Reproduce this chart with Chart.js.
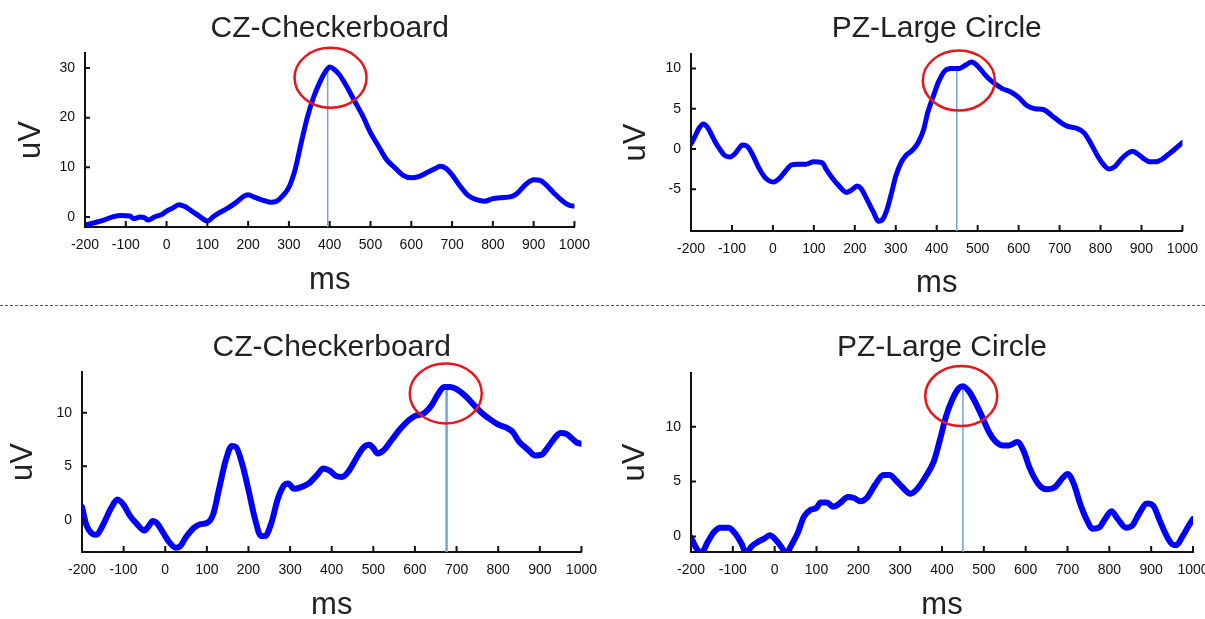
<!DOCTYPE html>
<html>
<head>
<meta charset="utf-8">
<script src="https://cdn.jsdelivr.net/npm/chart.js@4.4.1/dist/chart.umd.min.js"></script>
<style>
  html, body { margin: 0; padding: 0; background: #fff; overflow: hidden; }
  body { width: 1205px; height: 619px; position: relative; }
  canvas { position: absolute; }
  #sep { position: absolute; left: 0; top: 305px; width: 1205px; border-top: 1px dashed #555; }
</style>
</head>
<body>
<div id="sep"></div>
<canvas id="czTop" width="600" height="310" style="left:0;top:0"></canvas>
<canvas id="pzTop" width="603" height="310" style="left:605px;top:0"></canvas>
<canvas id="czBottom" width="607" height="330" style="left:0;top:300px"></canvas>
<canvas id="pzBottom" width="620" height="330" style="left:605px;top:300px"></canvas>
<script>
// tick labels
const msTicks = [-200, -100, 0, 100, 200, 300, 400, 500, 600, 700, 800, 900, 1000];
const czTopYTicks = [0, 10, 20, 30];
const pzTopYTicks = [-5, 0, 5, 10];
const czBottomYTicks = [0, 5, 10];
const pzBottomYTicks = [0, 5, 10];

// top row, CZ
const czTopTime = [-195, -170, -150, -130, -110, -90, -80, -65, -55, -45, -30, -10, 0, 15, 30, 45, 60, 80, 100, 115, 130, 150, 170, 190, 200, 215, 235, 255, 270, 285, 300, 315, 330, 345, 360, 375, 390, 400, 410, 425, 440, 460, 480, 500, 520, 540, 560, 580, 600, 620, 640, 660, 670, 685, 700, 720, 740, 760, 780, 800, 820, 845, 860, 880, 900, 915, 930, 950, 970, 990, 1000];
const czTopUv = [-1.5, -1.0, -0.5, 0.1, 0.3, 0.2, -0.3, 0.0, -0.1, -0.6, 0.0, 0.6, 1.2, 1.8, 2.5, 2.1, 1.3, 0.2, -0.8, 0.1, 0.9, 1.8, 2.9, 4.2, 4.5, 4.0, 3.4, 3.0, 3.2, 4.3, 6.0, 9.5, 14.9, 20.0, 24.0, 27.0, 29.3, 30.2, 29.8, 28.5, 26.5, 23.5, 20.5, 17.0, 14.2, 11.5, 9.9, 8.4, 7.9, 8.2, 9.0, 9.8, 10.2, 9.8, 8.5, 6.2, 4.3, 3.5, 3.2, 3.7, 3.9, 4.1, 4.8, 6.5, 7.5, 7.4, 6.5, 4.8, 3.3, 2.3, 2.2];

// top row, PZ
const pzTopTime = [-200, -190, -180, -170, -160, -150, -140, -130, -118, -105, -95, -85, -75, -65, -55, -45, -35, -20, -8, 2, 15, 30, 45, 60, 80, 100, 120, 130, 145, 160, 180, 195, 205, 215, 230, 245, 258, 270, 280, 290, 300, 312, 325, 340, 355, 368, 378, 392, 405, 420, 435, 455, 470, 485, 500, 515, 530, 545, 560, 580, 600, 620, 640, 660, 680, 700, 720, 740, 760, 775, 790, 805, 820, 835, 850, 865, 878, 890, 905, 920, 935, 950, 965, 980, 1000];
const pzTopUv = [0.6, 1.6, 2.6, 3.1, 2.7, 1.8, 0.8, 0.0, -0.8, -1.0, -0.7, -0.1, 0.5, 0.4, -0.2, -1.2, -2.3, -3.5, -4.0, -4.1, -3.7, -2.8, -2.0, -1.9, -1.9, -1.6, -1.7, -2.5, -3.6, -4.5, -5.4, -5.0, -4.6, -4.9, -6.3, -7.8, -9.0, -8.6, -7.3, -5.4, -3.4, -1.8, -0.8, -0.2, 0.8, 2.4, 4.5, 6.6, 8.4, 9.7, 10.0, 10.0, 10.4, 10.8, 10.3, 9.4, 8.6, 8.0, 7.5, 7.1, 6.4, 5.4, 5.0, 4.9, 4.2, 3.4, 2.8, 2.6, 2.0, 0.8, -0.6, -1.8, -2.5, -2.2, -1.3, -0.6, -0.3, -0.6, -1.2, -1.6, -1.6, -1.3, -0.7, -0.1, 0.8];

// bottom row, CZ
const czBottomTime = [-200, -190, -175, -165, -150, -130, -115, -100, -85, -70, -50, -40, -30, -20, -5, 10, 25, 35, 50, 70, 85, 100, 115, 130, 145, 160, 170, 185, 200, 215, 230, 240, 255, 270, 285, 295, 310, 330, 345, 365, 380, 395, 410, 425, 440, 460, 475, 490, 500, 510, 525, 545, 565, 585, 600, 620, 640, 655, 670, 685, 700, 720, 740, 760, 780, 800, 820, 835, 850, 870, 890, 905, 920, 935, 950, 965, 980, 990, 1000];
const czBottomUv = [1.2, -0.4, -1.3, -1.4, -0.5, 1.1, 1.9, 1.4, 0.4, -0.3, -1.0, -0.6, -0.1, -0.3, -1.2, -2.1, -2.6, -2.5, -1.6, -0.7, -0.4, -0.3, 0.5, 3.0, 5.5, 6.9, 6.8, 5.2, 2.8, 0.2, -1.5, -1.5, -0.3, 1.9, 3.2, 3.4, 2.9, 3.1, 3.4, 4.2, 4.8, 4.6, 4.1, 4.0, 4.5, 5.8, 6.7, 7.0, 6.7, 6.2, 6.5, 7.5, 8.5, 9.3, 9.7, 9.9, 10.7, 11.7, 12.4, 12.4, 12.2, 11.6, 10.8, 10.0, 9.4, 8.9, 8.6, 8.2, 7.3, 6.6, 6.0, 6.1, 6.8, 7.6, 8.1, 8.0, 7.5, 7.2, 7.1];

// bottom row, PZ
const pzBottomTime = [-200, -185, -175, -160, -145, -130, -110, -95, -80, -68, -55, -40, -25, -12, 0, 15, 28, 40, 55, 70, 85, 100, 110, 125, 140, 155, 175, 190, 205, 220, 240, 260, 275, 290, 305, 325, 340, 360, 380, 395, 410, 425, 440, 450, 465, 480, 495, 510, 525, 545, 560, 580, 595, 610, 630, 650, 670, 690, 700, 715, 730, 745, 760, 775, 790, 805, 820, 840, 855, 870, 890, 905, 920, 935, 950, 960, 975, 990, 1000];
const pzBottomUv = [-0.1, -1.2, -1.5, -0.5, 0.4, 0.8, 0.8, 0.3, -0.6, -1.5, -0.9, -0.5, -0.2, 0.1, -0.2, -0.9, -1.5, -0.8, 0.3, 1.8, 2.4, 2.6, 3.1, 3.1, 2.7, 3.0, 3.6, 3.5, 3.2, 3.5, 4.7, 5.6, 5.6, 5.1, 4.5, 3.9, 4.3, 5.4, 6.8, 8.8, 11.0, 12.5, 13.5, 13.7, 13.2, 12.2, 11.0, 9.7, 8.8, 8.3, 8.3, 8.6, 7.8, 6.2, 4.8, 4.3, 4.5, 5.4, 5.7, 4.8, 3.0, 1.6, 0.7, 0.8, 1.6, 2.3, 1.6, 0.8, 1.0, 2.0, 3.0, 2.8, 1.5, 0.2, -0.7, -0.8, 0.0, 1.0, 1.6];

// marked peaks: [ms, uV at top of marker line]
const czTopPeak = [395, 30.2];
const pzTopPeak = [449, 10.0];
const czBottomPeak = [676, 12.4];
const pzBottomPeak = [450, 13.7];

// ring centres [ms, uV]
const czTopRing = [402, 28];
const pzTopRing = [454, 8.5];
const czBottomRing = [674, 11.8];
const pzBottomRing = [446, 12.8];

const tickFont = { family: "'Liberation Sans Narrow', 'Liberation Sans', Arial, sans-serif", size: 14 };
const bigFont = { family: "'Liberation Sans', Arial, sans-serif", size: 30, weight: 'normal' };
const axisTitleFont = { family: "'Liberation Sans', Arial, sans-serif", size: 31, weight: 'normal' };

const innerTicks = {
    id: 'innerTicks',
    afterDraw(chart) {
        const { ctx, chartArea: a, scales: { x, y } } = chart;
        ctx.save();
        ctx.strokeStyle = '#111';
        ctx.lineWidth = 2;
        ctx.beginPath();
        x.ticks.forEach(t => {
            const px = x.getPixelForValue(t.value);
            ctx.moveTo(px, a.bottom);
            ctx.lineTo(px, a.bottom - 6);
        });
        y.ticks.forEach(t => {
            const py = y.getPixelForValue(t.value);
            ctx.moveTo(a.left, py);
            ctx.lineTo(a.left + 5, py);
        });
        ctx.stroke();
        ctx.restore();
    }
};

const peakRing = {
    id: 'peakRing',
    afterDatasetsDraw(chart, args, opts) {
        const { ctx, scales: { x, y } } = chart;
        ctx.save();
        ctx.strokeStyle = '#e8151b';
        ctx.lineWidth = 2.5;
        ctx.beginPath();
        ctx.ellipse(x.getPixelForValue(opts.at[0]), y.getPixelForValue(opts.at[1]), opts.rx, opts.ry, 0, 0, Math.PI * 2);
        ctx.stroke();
        ctx.restore();
    }
};

function makePanel(id, p) {
    new Chart(document.getElementById(id), {
        type: 'line',
        data: {
            datasets: [{
                data: p.time.map((t, i) => ({ x: t, y: p.uv[i] })),
                borderColor: '#0000ff',
                borderWidth: p.lineWidth,
                borderCapStyle: 'round',
                borderJoinStyle: 'round',
                cubicInterpolationMode: 'monotone',
                pointRadius: 0
            }, {
                data: [{ x: p.peak[0], y: p.yMin }, { x: p.peak[0], y: p.peak[1] }],
                borderColor: '#6fa5dc',
                borderWidth: p.markWidth,
                pointRadius: 0
            }]
        },
        options: {
            responsive: false,
            animation: false,
            layout: { padding: { left: 0, right: p.padRight, top: 0, bottom: 0 } },
            plugins: {
                legend: { display: false },
                tooltip: { enabled: false },
                title: {
                    display: true,
                    text: p.title,
                    fullSize: false,
                    color: '#222',
                    font: bigFont,
                    padding: { top: p.titleTop, bottom: p.titleBottom }
                },
                peakRing: { at: p.ring, rx: 36, ry: 30 }
            },
            scales: {
                x: {
                    type: 'linear',
                    min: -200,
                    max: 1000,
                    afterBuildTicks: s => { s.ticks = msTicks.map(v => ({ value: v })); },
                    afterFit: s => { s.height = p.xHeight; },
                    grid: { display: false, drawTicks: false },
                    border: { display: true, color: '#111', width: 2 },
                    ticks: { padding: 10, color: '#111', font: tickFont, maxRotation: 0, autoSkip: false, callback: v => String(v) },
                    title: { display: true, text: 'ms', color: '#222', font: axisTitleFont, padding: { top: 0, bottom: p.msPad } }
                },
                y: {
                    type: 'linear',
                    min: p.yMin,
                    max: p.yMax,
                    afterBuildTicks: s => { s.ticks = p.yTicks.map(v => ({ value: v })); },
                    afterFit: s => { s.width = p.yWidth; },
                    grid: { display: false, drawTicks: false },
                    border: { display: true, color: '#111', width: 2 },
                    ticks: { padding: 10, color: '#111', font: tickFont, callback: v => String(v) },
                    title: { display: true, text: 'uV', color: '#222', font: axisTitleFont, padding: { top: p.uvPad, bottom: 0 } }
                }
            }
        },
        plugins: [innerTicks, peakRing]
    });
}

makePanel('czTop', {
    title: 'CZ-Checkerboard', time: czTopTime, uv: czTopUv, yTicks: czTopYTicks,
    yMin: -2.0, yMax: 33, peak: czTopPeak, ring: czTopRing, lineWidth: 5, markWidth: 1.5,
    yWidth: 85, padRight: 25, xHeight: 83, titleTop: 11, titleBottom: 6, msPad: 11, uvPad: 13
});
makePanel('pzTop', {
    title: 'PZ-Large Circle', time: pzTopTime, uv: pzTopUv, yTicks: pzTopYTicks,
    yMin: -10.2, yMax: 11.8, peak: pzTopPeak, ring: pzTopRing, lineWidth: 5, markWidth: 1.5,
    yWidth: 86, padRight: 25, xHeight: 79, titleTop: 11, titleBottom: 7, msPad: 8, uvPad: 13
});
makePanel('czBottom', {
    title: 'CZ-Checkerboard', time: czBottomTime, uv: czBottomUv, yTicks: czBottomYTicks,
    yMin: -3.0, yMax: 13.8, peak: czBottomPeak, ring: czBottomRing, lineWidth: 6, markWidth: 2.5,
    yWidth: 82, padRight: 25, xHeight: 78, titleTop: 30, titleBottom: 6, msPad: 6, uvPad: 5
});
makePanel('pzBottom', {
    title: 'PZ-Large Circle', time: pzBottomTime, uv: pzBottomUv, yTicks: pzBottomYTicks,
    yMin: -1.42, yMax: 14.9, peak: pzBottomPeak, ring: pzBottomRing, lineWidth: 6, markWidth: 1.5,
    yWidth: 86, padRight: 32, xHeight: 78, titleTop: 30, titleBottom: 7, msPad: 6, uvPad: 12
});
</script>
</body>
</html>
